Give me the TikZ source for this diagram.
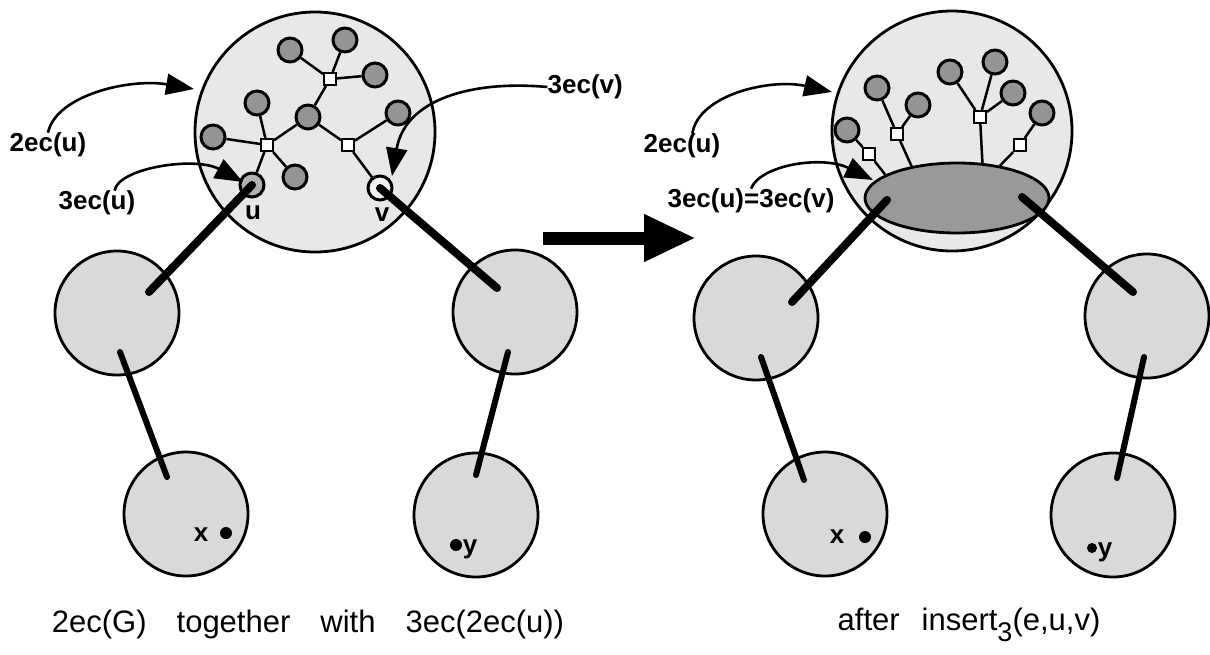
\documentclass[tikz,border=0pt]{standalone}
\usepackage{fontspec}
\setmainfont{Liberation Sans}
\usetikzlibrary{arrows.meta,shapes.geometric}
\begin{document}
\begin{tikzpicture}[x=1pt,y=-1pt,
  bigc/.style={circle,draw,line width=2.8pt,fill=black!9,minimum size=240pt,inner sep=0pt},
  midc/.style={circle,draw,line width=2.8pt,fill=black!15,minimum size=124pt,inner sep=0pt},
  sc/.style={circle,draw,line width=3pt,fill=black!42,minimum size=24pt,inner sep=0pt},
  sqn/.style={rectangle,draw,line width=2pt,fill=white,minimum size=12pt,inner sep=0pt},
  tree/.style={line width=2.5pt},
  thickA/.style={line width=8pt,line cap=round},
  thickB/.style={line width=6pt,line cap=round},
  lbl/.style={font=\fontsize{26}{30}\selectfont\bfseries,inner sep=0pt},
  captext/.style={font=\fontsize{31}{35}\selectfont,inner sep=0pt,anchor=base},
  ptr/.style={line width=2.6pt,-{Triangle[length=28pt,width=21pt]}},
  blackdot/.style={circle,fill=black,minimum size=12pt,inner sep=0pt},
]
\useasboundingbox (0,0) rectangle (1210,654);

% ---------------- left panel ----------------
\node[bigc] (L) at (315,132) {};
\node[midc] (ML) at (117,313) {};
\node[midc] (MR) at (515,312) {};
\node[midc] (BL) at (186,514) {};
\node[midc] (BR) at (476,515) {};

\node[sc] (a1) at (290,50) {};
\node[sc] (a2) at (345,40) {};
\node[sc] (a3) at (375,75) {};
\node[sqn] (s1) at (330,79) {};
\node[sc] (m) at (308,117) {};
\node[sc] (b1) at (257,103) {};
\node[sc] (b2) at (213,137) {};
\node[sqn] (s2) at (267,145) {};
\node[sc] (b3) at (295,177) {};
\node[sc,fill=black!30] (u) at (252,185) {};
\node[sqn] (s3) at (348,145) {};
\node[sc] (c1) at (398,113) {};
\node[sc,fill=black!6] (v) at (380,188) {};

\draw[tree] (s1)--(a1) (s1)--(a2) (s1)--(a3) (s1)--(m)
  (m)--(s2) (m)--(s3) (s2)--(b1) (s2)--(b2) (s2)--(b3) (s2)--(u)
  (s3)--(c1) (s3)--(v);

\node[lbl] (ul) at (253,213) {u};
\node[lbl] (vl) at (382,215) {v};

\coordinate (mlT) at (149,292);
\coordinate (mrT) at (497,288);
\coordinate (mlB) at (120,352);
\coordinate (blT) at (167,477);
\coordinate (mrB) at (508,352);
\coordinate (brT) at (476,475);
\draw[thickA] (u.center) -- (mlT);
\draw[thickA] (v.center) -- (mrT);
\draw[thickB] (mlB) -- (blT);
\draw[thickB] (mrB) -- (brT);

\node[blackdot] (xd) at (226,533) {};
\node[lbl] (xl) at (201,535) {x};
\node[blackdot] (yd) at (456,545) {};
\node[lbl] (yl) at (470,549) {y};

\node[lbl] (t2L) at (48,145) {2ec(u)};
\node[lbl] (t3L) at (97,203) {3ec(u)};
\node[lbl,anchor=east] (t3vL) at (623,87) {3ec(v)};
\coordinate (tipA) at (194,89);
\coordinate (tipB) at (243,182);
\coordinate (tipC) at (392,176);
\draw[ptr] (t2L.north) .. controls (56,95) and (130,78) .. (tipA);
\draw[ptr] (t3L.35) .. controls (118,168) and (195,156) .. (tipB);
\draw[ptr] (t3vL.west) .. controls (470,80) and (405,100) .. (tipC);

% ---------------- big arrow ----------------
\coordinate (bigA) at (543,238);
\coordinate (bigB) at (696,238);
\draw[line width=13pt,-{Triangle[length=52pt,width=44pt]}] (bigA) -- (bigB);

% ---------------- right panel ----------------
\node[bigc] (R) at (952,131) {};
\node[midc] (RML) at (756,318) {};
\node[midc] (RMR) at (1147,316) {};
\node[midc] (RBL) at (825,514) {};
\node[midc] (RBR) at (1113,515) {};

\node[ellipse,draw,line width=2.8pt,fill=black!40,minimum width=184pt,minimum height=70pt,inner sep=0pt] (E) at (957,198) {};

\node[sc] (d1) at (847,130) {};
\node[sqn] (q1) at (869,154) {};
\node[sc] (d2) at (877,88) {};
\node[sc] (d3) at (918,105) {};
\node[sqn] (q2) at (897,134) {};
\node[sc] (d4) at (950,72) {};
\node[sc] (d5) at (995,62) {};
\node[sc] (d6) at (1013,93) {};
\node[sqn] (q3) at (980,117) {};
\node[sc] (d7) at (1042,113) {};
\node[sqn] (q4) at (1020,145) {};

\draw[tree] (d1)--(q1) (q1)--(E.162)
  (d2)--(q2) (d3)--(q2) (q2)--(E.145)
  (d4)--(q3) (d5)--(q3) (d6)--(q3) (q3)--(E.54)
  (d7)--(q4) (q4)--(E.37);

\coordinate (eL) at (887,200);
\coordinate (eR) at (1022,197);
\coordinate (rmlT) at (792,302);
\coordinate (rmrT) at (1133,292);
\coordinate (rmlB) at (761,357);
\coordinate (rblT) at (804,480);
\coordinate (rmrB) at (1144,357);
\coordinate (rbrT) at (1117,478);
\draw[thickA] (eL) -- (rmlT);
\draw[thickA] (eR) -- (rmrT);
\draw[thickB] (rmlB) -- (rblT);
\draw[thickB] (rmrB) -- (rbrT);

\node[blackdot] (xd2) at (865,537) {};
\node[lbl] (xl2) at (837,537) {x};
\node[blackdot,minimum size=10pt] (yd2) at (1092,548) {};
\node[lbl] (yl2) at (1105,552) {y};

\node[lbl] (t2R) at (682,146) {2ec(u)};
\node[lbl] (t3R) at (751,201) {3ec(u)=3ec(v)};
\coordinate (tipD) at (832,92);
\coordinate (tipE) at (873,180);
\draw[ptr] (t2R.50) .. controls (698,95) and (770,78) .. (tipD);
\draw[ptr] (t3R.north) .. controls (760,165) and (822,155) .. (tipE);

% ---------------- captions ----------------
\node[captext] (cap1) at (308,632) {2ec(G)\hspace{30pt}together\hspace{30pt}with\hspace{30pt}3ec(2ec(u))};
\node[captext] (cap2) at (969,630) {after\hspace{22pt}insert\raisebox{-11pt}{\fontsize{27}{27}\selectfont 3}(e,u,v)};
\end{tikzpicture}
\end{document}
